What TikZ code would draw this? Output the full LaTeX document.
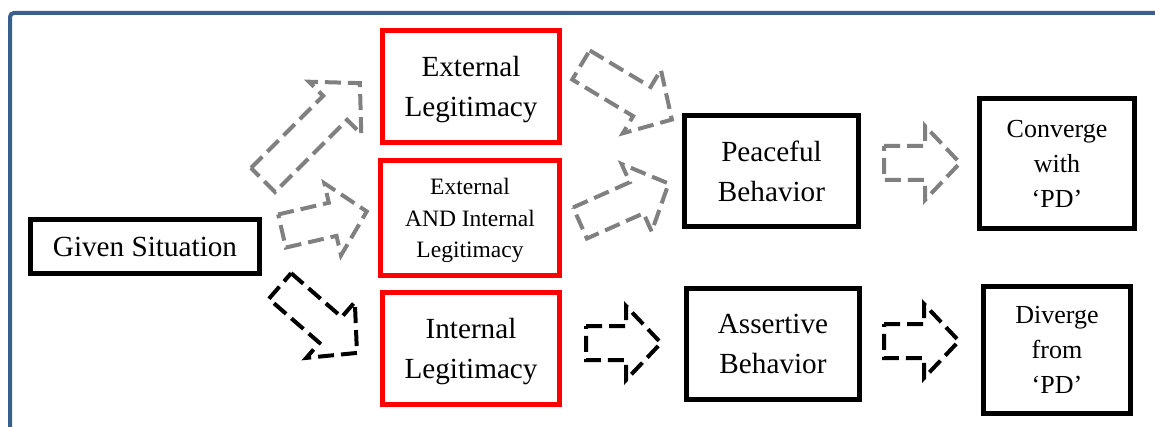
\documentclass[tikz,border=0pt]{standalone}
\usepackage{fontspec}
\setmainfont{Liberation Serif}
\usepackage{tikz}
\definecolor{frameblue}{RGB}{58,95,140}
\tikzset{box/.style={draw,line width=2.5pt,align=center,inner sep=0pt},
 legit/.style={box,draw=red,text depth=0pt},
 flow/.style={line width=2pt,dash pattern=on 8pt off 3.5pt},
 bigtext/.style={font=\fontsize{14.6}{20}\selectfont},
 midtext/.style={font=\fontsize{13}{17.5}\selectfont},
 smalltext/.style={font=\fontsize{11.75}{15.75}\selectfont}}

\begin{document}
\begin{tikzpicture}[x=0.5pt,y=-0.5pt]
\useasboundingbox (0,0) rectangle (1155,427);
\draw[frameblue,line width=2pt,rounded corners=2pt] (10,427)--(10,13)--(1155,13);
\node[box,bigtext,minimum width=114.5pt,minimum height=27pt] (given) at (145,246.5) {Given Situation};
\node[legit,bigtext,minimum width=88.5pt,minimum height=56pt] (extleg) at (471,86.5) {External\\Legitimacy};
\node[legit,smalltext,minimum width=89.5pt,minimum height=57.5pt] (bothleg) at (470,218) {External\\AND Internal\\Legitimacy};
\node[legit,bigtext,minimum width=88.5pt,minimum height=56pt] (intleg) at (471,348.5) {Internal\\Legitimacy};
\node[box,bigtext,minimum width=87pt,minimum height=55.5pt] (peace) at (771.5,171) {Peaceful\\Behavior};
\node[box,bigtext,minimum width=86.5pt,minimum height=55.5pt] (assert) at (773,344) {Assertive\\Behavior};
\node[box,midtext,minimum width=77.5pt,minimum height=65pt] (conv) at (1057,163.5) {Converge\\with\\‘PD’};
\node[box,midtext,minimum width=73.5pt,minimum height=63.5pt] (div) at (1057,350) {Diverge\\from\\‘PD’};
% dashed block arrows: tail x/y, angle, length, colour
\foreach \x/\y/\a/\l/\c in {263/180/45/137/gray,282/231/13/87/gray,280/286/-41/102/black,
  581/65/-31/106/gray,580/223/24/97/gray,586/343/0/75/black,884/163/0/76/gray,884/341/0/75/black}
  \draw[flow,\c,shift={(\x,\y)},rotate=\a] (0,-17)--(\l-35,-17)--(\l-35,-37)--(\l,0)
    --(\l-35,37)--(\l-35,17)--(0,17)--cycle;
\end{tikzpicture}
\end{document}
